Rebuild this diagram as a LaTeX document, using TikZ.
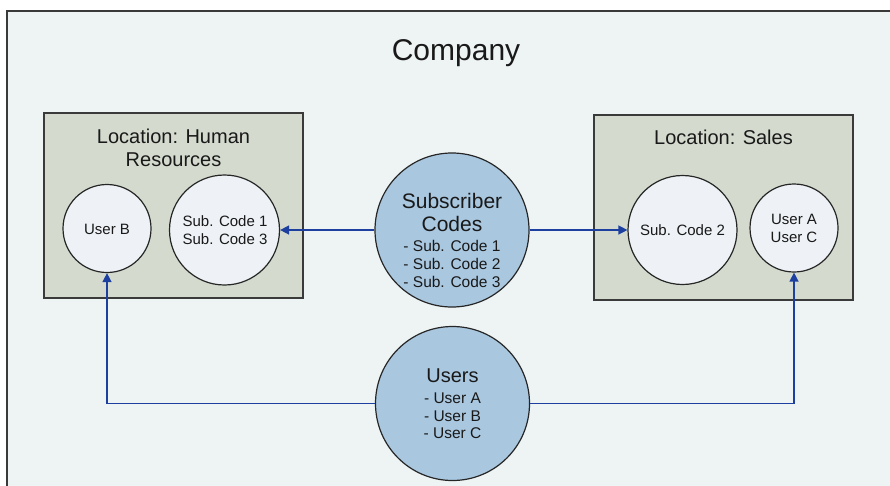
\documentclass[tikz,border=0pt]{standalone}
\usepackage{fontspec}
\setmainfont{Liberation Sans}
\usetikzlibrary{arrows.meta}
\definecolor{bgc}{HTML}{EEF3F3}
\definecolor{framec}{HTML}{3A3A3A}
\definecolor{boxc}{HTML}{D4DBCE}
\definecolor{lightc}{HTML}{EEF2F6}
\definecolor{bluec}{HTML}{A9C7DF}
\definecolor{linec}{HTML}{1C3FA0}
\tikzset{
  locbox/.style={draw=framec, fill=boxc, line width=1.2pt, inner sep=0pt, minimum width=259pt, minimum height=185pt},
  lightcirc/.style={circle, draw=black!85, fill=lightc, line width=1.2pt, inner sep=0pt},
  bluecirc/.style={circle, draw=black!85, fill=bluec, line width=1.2pt, inner sep=0pt},
  conn/.style={draw=linec, line width=1.4pt, -{Triangle[length=9pt,width=9pt]}},
  txt/.style={anchor=base, inner sep=0pt, text=black!90},
  tbig/.style={txt, font=\fontsize{30}{34}\selectfont},
  tloc/.style={txt, font=\fontsize{20}{23}\selectfont},
  thead/.style={txt, font=\fontsize{21}{23}\selectfont},
  tsmall/.style={txt, font=\fontsize{15}{18}\selectfont},
  tlist/.style={txt, font=\fontsize{15.5}{18}\selectfont}
}
\begin{document}
\begin{tikzpicture}[x=1pt,y=-1pt]
\useasboundingbox (0,0) rectangle (890,485);
\fill[white] (0,0) rectangle (890,485);
\fill[bgc] (7,11) rectangle (893,488);
\draw[framec, line width=1.5pt] (7,488) -- (7,11) -- (893,11);

\node[tbig] (company) at (456,60) {Company};

% Location boxes
\node[locbox] (hr) at (173.5,205.5) {};
\node[locbox] (sales) at (723.5,207.5) {};
\node[tloc] (hrt1) at (173.5,143) {Location: Human};
\node[tloc] (hrt2) at (173.5,166) {Resources};
\node[tloc] (salest) at (723.5,144) {Location: Sales};

% circles in boxes
\node[lightcirc, minimum size=88pt] (ub) at (107,228.5) {};
\node[lightcirc, minimum size=110pt] (sc13) at (224.5,230) {};
\node[lightcirc, minimum size=109pt] (sc2) at (682.5,230) {};
\node[lightcirc, minimum size=88pt] (uac) at (794,228) {};
\node[tsmall] (ubt) at (107,234) {User B};
\node[tsmall] (sc13a) at (225,226) {Sub. Code 1};
\node[tsmall] (sc13b) at (225,244) {Sub. Code 3};
\node[tsmall] (sc2t) at (682.5,235) {Sub. Code 2};
\node[tsmall] (uaca) at (794,224) {User A};
\node[tsmall] (uacb) at (794,242) {User C};

% central circles
\node[bluecirc, minimum size=154pt] (subc) at (452,230) {};
\node[bluecirc, minimum size=154pt] (users) at (452.5,403.5) {};
\node[thead] (subct1) at (452,208) {Subscriber};
\node[thead] (subct2) at (452,231) {Codes};
\node[tlist] (subcl1) at (452,251) {- Sub. Code 1};
\node[tlist] (subcl2) at (452,269) {- Sub. Code 2};
\node[tlist] (subcl3) at (452,287) {- Sub. Code 3};
\node[tloc] (userst) at (452.5,382) {Users};
\node[tlist] (usersl1) at (452.5,403) {- User A};
\node[tlist] (usersl2) at (452.5,421) {- User B};
\node[tlist] (usersl3) at (452.5,438) {- User C};

% connectors
\draw[conn] (subc.west) -- (sc13.east);
\draw[conn] (subc.east) -- (sc2.west);
\draw[conn] (users.west) -| (ub.south);
\draw[conn] (users.east) -| (uac.south);
\end{tikzpicture}
\end{document}
